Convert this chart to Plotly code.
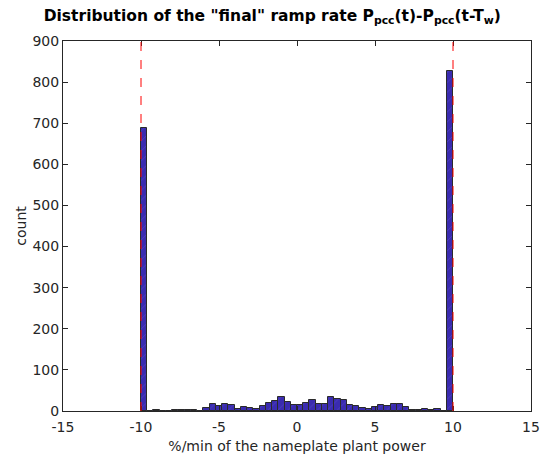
import plotly.graph_objects as go

bin_start = -10.0
bin_width = 0.4
counts = [688, 0, 3, 1, 1, 2, 3, 3, 3, 1,
          7, 16, 12, 16, 15, 6, 9, 8, 6, 11,
          20, 24, 35, 22, 15, 15, 19, 26, 18, 16,
          35, 29, 27, 14, 11, 7, 5, 10, 15, 12,
          16, 16, 9, 3, 3, 5, 2, 4, 1, 826]
limit_lines = [-10, 10]
x_ticks = [-15, -10, -5, 0, 5, 10, 15]
y_ticks = [0, 100, 200, 300, 400, 500, 600, 700, 800, 900]

centers = [bin_start + bin_width * (i + 0.5) for i in range(len(counts))]

fig = go.Figure()
fig.add_trace(go.Bar(
    x=centers, y=counts, width=bin_width,
    marker=dict(color="#3a2bb0",
                line=dict(color="#2a2a2a", width=1),
                pattern=dict(shape="/", fgcolor="#6458cc", size=7, solidity=0.12)),
    showlegend=False,
))
for xv in limit_lines:
    fig.add_shape(type="line", x0=xv, x1=xv, y0=0, y1=900, xref="x", yref="y",
                  line=dict(color="#ff0000", width=1, dash="dash"), layer="above")

axis_common = dict(showline=True, linecolor="#262626", linewidth=1, mirror="ticks",
                   ticks="inside", ticklen=5, tickcolor="#262626", showgrid=False,
                   zeroline=False, automargin=False,
                   tickfont=dict(family="DejaVu Sans", size=14, color="#262626"))
fig.update_xaxes(range=[-15, 15], tickvals=x_ticks, ticktext=[str(v) for v in x_ticks],
                 ticklabelstandoff=3,
                 title=dict(text="%/min of the nameplate plant power",
                            font=dict(family="DejaVu Sans", size=14, color="#262626"), standoff=7),
                 **axis_common)
fig.update_yaxes(range=[0, 900], tickvals=y_ticks, ticktext=[str(v) for v in y_ticks],
                 title=dict(text="count", font=dict(family="DejaVu Sans", size=14, color="#262626"),
                            standoff=2),
                 **axis_common)
fig.update_layout(
    width=549, height=458,
    margin=dict(l=63, r=18, t=41, b=47),
    paper_bgcolor="white", plot_bgcolor="white",
    bargap=0,
    title=dict(text='<b>Distribution of the "final" ramp rate P<sub>pcc</sub>(t)-P<sub>pcc</sub>(t-T<sub>w</sub>)</b>',
               x=0.496, xanchor="center", y=0.978, yanchor="top",
               font=dict(family="DejaVu Sans", size=15.5, color="black")),
)
fig.write_html("out.html")
